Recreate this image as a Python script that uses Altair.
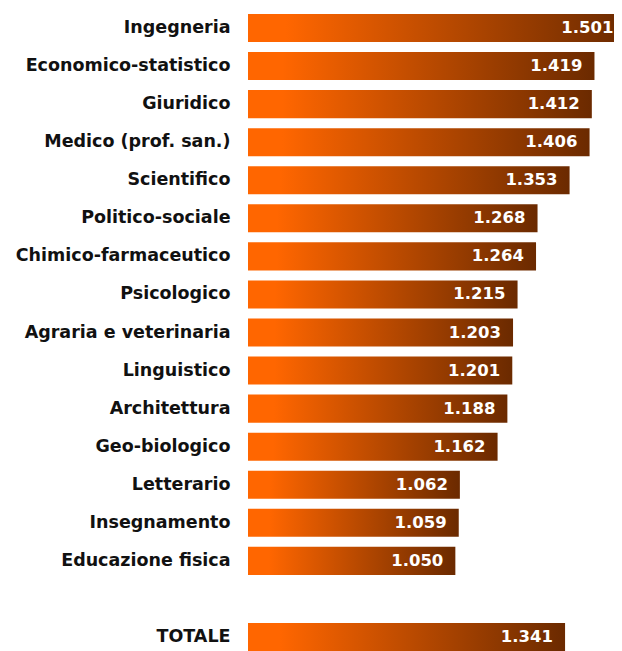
import altair as alt
import pandas as pd

categories = ["Ingegneria", "Economico-statistico", "Giuridico", "Medico (prof. san.)",
              "Scientifico", "Politico-sociale", "Chimico-farmaceutico", "Psicologico",
              "Agraria e veterinaria", "Linguistico", "Architettura", "Geo-biologico",
              "Letterario", "Insegnamento", "Educazione fisica"]
values = [1501, 1419, 1412, 1406, 1353, 1268, 1264, 1215, 1203, 1201, 1188, 1162,
          1062, 1059, 1050]
total_label = "TOTALE"
total_value = 1341
gap_label = " "

cats = categories + [total_label]
vals = values + [total_value]
df = pd.DataFrame({
    "cat": cats,
    "value": vals,
    "label": [f"{v:,}".replace(",", ".") for v in vals],
})
domain = categories + [gap_label, total_label]

FONT = "DejaVu Sans"
grad = alt.Gradient(
    gradient="linear",
    stops=[alt.GradientStop(color="#ff6600", offset=0),
           alt.GradientStop(color="#ff6600", offset=0.1),
           alt.GradientStop(color="#6b2a00", offset=1)],
    x1=0, x2=1, y1=0, y2=0,
)

yenc = alt.Y("cat:N", sort=domain,
             scale=alt.Scale(domain=domain, paddingInner=0.2643, paddingOuter=0),
             axis=alt.Axis(title=None, ticks=False, domain=False, labelPadding=18,
                           labelFontSize=17.5, labelFont=FONT, labelFontWeight="bold",
                           labelColor="#111111", labelLimit=400))
xscale = alt.Scale(domain=[500, 1470.8], zero=False, nice=False)

bars = alt.Chart(df).mark_bar(color=grad, clip=True).encode(
    y=yenc,
    x=alt.X("value:Q", scale=xscale, axis=None),
    x2=alt.datum(500),
)
text = alt.Chart(df).mark_text(align="right", baseline="middle", dx=-12, color="white",
                               fontWeight="bold", fontSize=16.5, font=FONT).encode(
    y=alt.Y("cat:N", sort=domain),
    x=alt.X("value:Q", scale=xscale, axis=None),
    text="label:N",
)

chart = alt.layer(bars, text).properties(
    width=366, height=637,
    autosize=alt.AutoSizeParams(type="none"),
    padding={"left": 240, "top": 6, "right": 0, "bottom": 0},
).configure_view(stroke=None)

chart.save("out.html", embed_options={"renderer": "svg", "actions": False})
